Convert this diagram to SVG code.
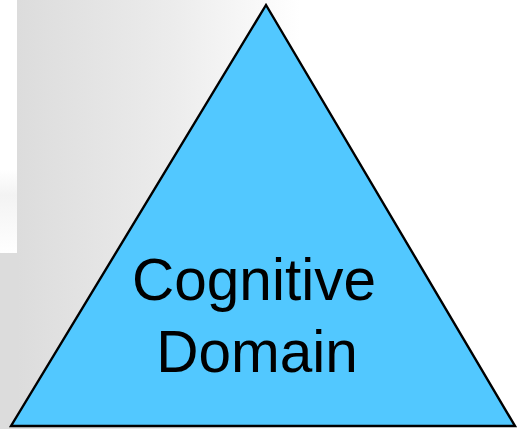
<svg xmlns="http://www.w3.org/2000/svg" width="517" height="429" viewBox="0 0 517 429">
  <style>
    .label { font-family: "Liberation Sans", Arial, sans-serif; font-size: 58.5px; fill: #000; text-anchor: middle; }
    .tri { fill: #52c8ff; stroke: #000; stroke-width: 2.4; stroke-linejoin: miter; }
  </style>
  <defs>
    <linearGradient id="bgFade" x1="17" y1="0" x2="300" y2="0" gradientUnits="userSpaceOnUse">
      <stop offset="0" stop-color="#dcdcdc"/>
      <stop offset="0.55" stop-color="#ececec"/>
      <stop offset="1" stop-color="#ffffff"/>
    </linearGradient>
    <linearGradient id="boxShade" x1="0" y1="170" x2="0" y2="253" gradientUnits="userSpaceOnUse">
      <stop offset="0" stop-color="#ffffff"/>
      <stop offset="0.3" stop-color="#f3f3f3"/>
      <stop offset="1" stop-color="#ffffff"/>
    </linearGradient>
  </defs>
  <!-- page background -->
  <rect x="0" y="0" width="517" height="429" fill="#ffffff"/>
  <rect x="0" y="0" width="517" height="429" fill="url(#bgFade)"/>
  <!-- white strip on the left edge -->
  <rect x="0" y="0" width="17" height="253" fill="#ffffff"/>
  <rect x="0" y="170" width="17" height="83" fill="url(#boxShade)"/>
  <g id="cognitive-domain">
    <polygon class="tri" points="266,5 11,426 515,426"/>
    <text class="label" x="254" y="300">Cognitive</text>
    <text class="label" x="257" y="372">Domain</text>
  </g>
</svg>
